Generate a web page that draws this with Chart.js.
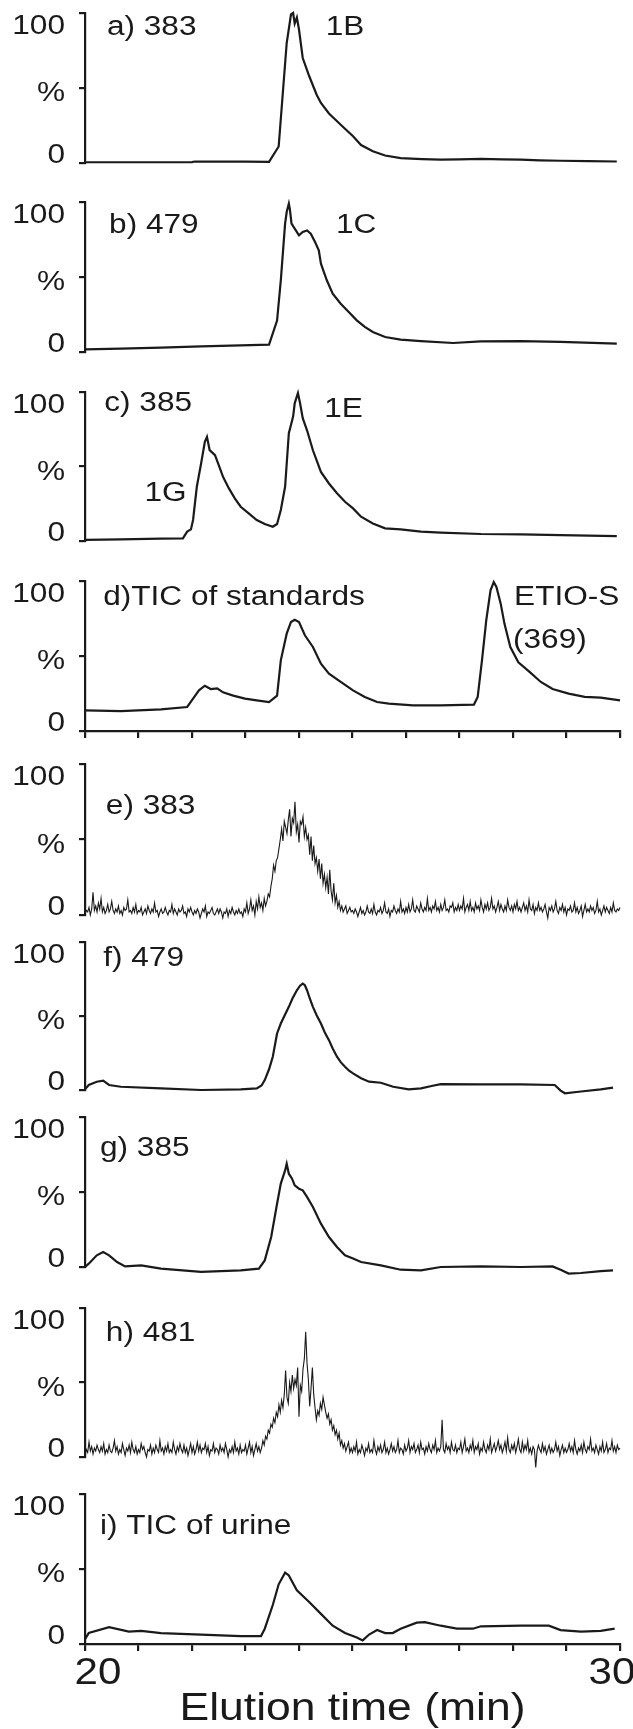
<!DOCTYPE html>
<html>
<head>
<meta charset="utf-8">
<title>Elution profiles</title>
<script src="https://cdn.jsdelivr.net/npm/chart.js@4.4.1/dist/chart.umd.min.js"></script>
<style>
  html, body { margin: 0; padding: 0; background: #fff; }
  #wrap { position: relative; width: 633px; height: 1729px; overflow: hidden; }
  #wrap canvas { position: absolute; left: 0; }
</style>
</head>
<body>
<div id="wrap"></div>
<script>
// elution time (min) / relative intensity (%) for each trace
const aTimes = [20.00, 21.00, 22.00, 22.05, 23.00, 23.44, 23.62, 23.77, 23.85, 23.89, 23.92, 23.96, 24.00, 24.07, 24.19, 24.33, 24.41, 24.56, 24.78, 25.01, 25.16, 25.38, 25.61, 25.90, 26.30, 26.65, 27.00, 27.40, 27.80, 28.15, 28.50, 28.89, 29.40, 29.94];
const aValues = [0.5, 0.5, 0.6, 1.0, 0.9, 0.8, 11, 80, 99, 100, 93, 97, 89, 70, 58, 45.5, 40, 33, 25.5, 17.8, 12, 7.8, 5, 3.3, 2.6, 2.2, 2.4, 2.7, 2.4, 2.2, 1.8, 1.5, 1.2, 1.0];

const bTimes = [20.00, 20.67, 21.42, 22.17, 22.91, 23.44, 23.59, 23.66, 23.74, 23.77, 23.81, 23.83, 23.86, 23.92, 24.00, 24.07, 24.15, 24.22, 24.30, 24.37, 24.41, 24.52, 24.63, 24.78, 24.93, 25.08, 25.23, 25.38, 25.61, 25.90, 26.28, 26.88, 27.40, 28.15, 28.89, 29.94];
const bValues = [1.8, 2.2, 2.9, 3.8, 4.4, 4.9, 21, 47.8, 85.6, 93.3, 98.9, 95, 85.6, 82.2, 77.8, 80, 81, 78.9, 73.3, 67.8, 58.9, 47.8, 38.9, 32.2, 26.7, 21.1, 16.7, 13.3, 10, 8.2, 7.3, 6, 7.1, 7.3, 6.7, 5.6];

const cTimes = [20.00, 20.67, 21.42, 21.83, 21.91, 21.98, 22.02, 22.09, 22.17, 22.24, 22.28, 22.33, 22.43, 22.50, 22.58, 22.69, 22.80, 22.91, 23.06, 23.21, 23.36, 23.51, 23.59, 23.66, 23.74, 23.81, 23.89, 23.92, 23.98, 24.02, 24.07, 24.15, 24.26, 24.41, 24.56, 24.71, 24.86, 25.01, 25.16, 25.38, 25.61, 25.90, 26.28, 26.65, 27.40, 28.15, 28.89, 29.94];
const cValues = [0.7, 1.1, 1.6, 1.8, 6.3, 7.8, 14.1, 36.4, 52, 66.5, 69.9, 61, 57.6, 50.9, 43.1, 35.3, 28.6, 23.0, 18.5, 14.1, 11.4, 9.6, 11.4, 20.8, 36.4, 72.3, 83.5, 92.4, 99.3, 92.4, 82.4, 74.3, 60.9, 46.4, 38.6, 32.0, 26.3, 21.9, 16.3, 11.8, 8.5, 7.8, 6.3, 5.6, 4.7, 4.5, 4.0, 3.3];

const dTimes = [20.00, 20.67, 21.42, 21.91, 22.02, 22.13, 22.24, 22.35, 22.47, 22.58, 22.77, 22.99, 23.21, 23.44, 23.59, 23.66, 23.77, 23.85, 23.92, 24.00, 24.11, 24.26, 24.41, 24.56, 24.78, 25.01, 25.23, 25.46, 25.68, 26.13, 26.65, 27.27, 27.34, 27.42, 27.50, 27.58, 27.64, 27.69, 27.77, 27.84, 27.95, 28.10, 28.32, 28.52, 28.74, 29.04, 29.34, 29.64, 30.00];
const dValues = [13.8, 13.3, 14.4, 16.0, 21.6, 27.1, 30.2, 28.0, 28.4, 25.8, 23.6, 21.6, 20.4, 19.3, 23.6, 47.1, 64.9, 72.7, 74.2, 72.7, 63.8, 56.0, 44.9, 38.2, 32.7, 27.1, 22.7, 19.3, 18.2, 17.1, 17.1, 17.6, 22.7, 47.1, 73.8, 93.8, 99.3, 96.0, 84.9, 71.6, 56.0, 45.8, 39.1, 32.7, 28.0, 24.9, 22.7, 22.2, 20.4];

// e) and h) are noisy, read off on a 0.025 min grid starting at 20 min (one row = 0.5 min)
const gridStart = 20;
const gridStep = 0.025;
const eValues = [
  1, 3, 2, 5, 0, 4, 15, 3, 6, 2, 8, 4, 11, 2, 5, 1, 3, 7, 2, 4,
  9, 3, 1, 4, 2, 6, 1, 3, 0, 5, 3, 4, 10, 2, 3, 1, 5, 2, 7, 1,
  3, 2, 5, 0, 2, 4, 1, 6, 3, 1, 4, 2, 8, 2, 3, -1, 2, 4, 1, 2,
  5, 2, 0, 3, 2, 7, 1, 4, 2, 0, 4, 2, 3, 6, 1, 2, -1, 4, 2, 5,
  2, 0, 3, 1, 4, 2, -2, 1, 4, 2, 6, -1, 2, 1, 3, 5, 1, 0, 2, 4,
  1, 4, 2, -2, 2, 1, 4, -1, 3, 1, 5, 2, 0, 3, 1, 4, 1, 2, -1, 4,
  2, 8, 1, 4, 10, 3, 6, 0, 9, 4, 12, 5, 8, 3, 11, 6, 9, 14, 12, 19,
  24, 33, 29, 36, 38, 44, 50, 57, 49, 62, 58, 54, 63, 70, 52, 64, 61, 75, 55, 60,
  48, 62, 60, 65, 52, 58, 50, 53, 40, 52, 36, 46, 34, 38, 29, 37, 24, 34, 21, 27,
  18, 25, 14, 30, 16, 10, 21, 8, 13, 5, 9, 3, 6, 2, 4, 6, 1, 3, 5, 2,
  3, 1, 4, 2, -1, 2, 5, 1, 3, 0, 2, 6, 2, 1, 4, 1, 7, 2, 0, 3,
  2, 5, 1, 3, 8, 2, 1, 4, -1, 3, 2, 6, 3, 1, 4, 2, 9, 2, 4, 1,
  5, 2, 7, 2, 4, 10, 3, 2, 6, 4, 2, 8, 4, 2, 5, 3, 11, 3, 5, 2,
  6, 4, 9, 3, 5, 2, 7, 3, 5, 10, 3, 4, 2, 6, 5, 8, 2, 5, 3, 7,
  3, 6, 4, 11, 2, 5, 7, 3, 9, 3, 5, 2, 8, 4, 6, 3, 10, 5, 2, 7,
  4, 8, 3, 5, 11, 4, 6, 2, 5, 9, 3, 7, 4, 2, 6, 3, 10, 5, 3, 6,
  2, 7, 4, 9, 3, 5, 2, 5, 8, 3, 6, 2, 10, 4, 3, 7, 1, 5, 3, 8,
  3, 5, 2, 4, 7, 2, -2, 5, 3, 6, 2, 4, 9, 3, 1, 5, 3, 7, 2, 5,
  0, 4, 3, 6, 2, 3, 8, 2, 5, 1, 3, 6, -1, 3, 7, 2, 4, 2, 6, 3,
  5, 1, 3, 9, 2, 4, 0, 3, 6, 2, 5, 3, 1, 5, 2, 8, 3, 2, 4, 3,
  5
];

const fTimes = [20.00, 20.07, 20.22, 20.34, 20.45, 20.67, 21.42, 22.17, 22.91, 23.21, 23.30, 23.36, 23.44, 23.51, 23.59, 23.66, 23.74, 23.81, 23.88, 23.96, 24.02, 24.07, 24.11, 24.15, 24.20, 24.26, 24.33, 24.41, 24.48, 24.56, 24.63, 24.71, 24.78, 24.86, 24.93, 25.01, 25.16, 25.31, 25.53, 25.76, 26.05, 26.28, 26.50, 26.65, 27.40, 28.15, 28.78, 28.89, 28.97, 29.27, 29.64, 29.87];
const fValues = [0.4, 3.4, 5.6, 6.3, 3.4, 2.2, 1.1, 0, 0.4, 1.1, 3.0, 6.7, 14, 22.5, 38.2, 44.9, 51, 56.2, 62, 67.4, 70.5, 71.9, 70.8, 67.4, 62, 56.2, 50.5, 44.9, 39, 33.7, 28, 22.5, 18.8, 15.7, 13.2, 11.2, 7.9, 5.6, 4.9, 2.2, 0.4, 1.1, 2.9, 4.0, 3.8, 3.8, 3.4, -0.4, -2.2, -1.0, 0.4, 1.6];

const gTimes = [20.00, 20.07, 20.22, 20.34, 20.45, 20.60, 20.75, 21.05, 21.42, 22.17, 22.91, 23.25, 23.36, 23.48, 23.59, 23.66, 23.74, 23.77, 23.81, 23.87, 23.92, 24.00, 24.07, 24.15, 24.26, 24.41, 24.56, 24.71, 24.86, 25.01, 25.16, 25.53, 25.90, 26.28, 26.65, 27.40, 28.15, 28.74, 28.89, 29.04, 29.27, 29.64, 29.87];
const gValues = [0, 2.2, 7.8, 10, 7.8, 3.3, 0.4, 1.1, -1.1, -3.3, -2.2, -1.1, 4.4, 20, 42.2, 55.6, 64.4, 68.9, 62.2, 58.9, 54.4, 52.2, 51.1, 46.7, 40, 28.9, 20, 13.3, 7.8, 5.6, 3.3, 1.1, -1.8, -2.2, 0, 0.4, 0, 0.4, -1.8, -4.4, -4.0, -2.7, -2.2];

const hValues = [
  1, 5, 3, 10, 4, 7, 2, 6, 4, 8, 5, 3, 7, 4, 9, 2, 5, 3, 8, 4,
  3, 6, 11, 4, 7, 2, 5, 3, 9, 5, 1, 6, 4, 8, 3, 10, 5, 3, 7, 2,
  5, 3, 9, 5, 7, 3, 0, 5, 4, 8, 2, 6, 3, 8, 5, 3, 11, 4, 6, 2,
  7, 4, 9, 3, 5, 3, 10, 5, 2, 7, 4, 9, 5, 3, 8, 3, 6, 1, 5, 9,
  3, 7, 2, 5, 10, 4, 8, 3, 6, 5, 9, 3, 7, 1, 5, 4, 9, 3, 6, 5,
  2, 8, 4, 6, 3, 9, 5, 0, 5, 3, 7, 3, 10, 4, 6, 2, 8, 3, 5, 4,
  8, 2, 6, 10, 3, 7, 1, 5, 9, 4, 7, 3, 6, 11, 8, 14, 12, 18, 16, 22,
  20, 26, 23, 30, 27, 35, 30, 38, 33, 42, 58, 40, 36, 50, 44, 55, 46, 52, 48, 60,
  27, 48, 44, 59, 66, 84, 63, 52, 34, 46, 60, 42, 33, 25, 31, 28, 36, 32, 40, 35,
  30, 26, 29, 22, 25, 18, 21, 15, 18, 12, 16, 8, 11, 6, 9, 4, 7, 10, 3, 6,
  3, 7, 4, 10, 2, 5, 3, 8, 5, 1, 6, 4, 9, 3, 5, 3, 11, 5, 2, 7,
  4, 8, 3, 5, 10, 3, 6, 2, 5, 9, 4, 7, 3, 5, 11, 3, 6, 5, 2, 8,
  4, 6, 11, 3, 7, 5, 9, 3, 5, 8, 3, 10, 5, 6, 2, 7, 4, 9, 5, 3,
  8, 5, 11, 3, 6, 4, 7, 25, 5, 3, 9, 5, 7, 3, 10, 5, 4, 8, 3, 6,
  5, 10, 3, 7, 12, 4, 6, 3, 8, 5, 11, 3, 7, 5, 9, 2, 6, 4, 10, 5,
  3, 8, 5, 12, 3, 6, 9, 4, 7, 11, 5, 8, 3, 6, 10, 4, 13, 5, 3, 8,
  5, 9, 3, 7, 12, 5, 3, 10, 4, 8, 5, 11, 3, 6, 2, 7, 5, -7, 4, 8,
  5, 3, 9, 4, 7, 2, 5, 8, 3, 6, 3, 5, 10, 4, 7, 1, 5, 8, 3, 6,
  3, 5, 9, 4, 7, 3, 11, 5, 2, 6, 4, 8, 3, 10, 5, 3, 7, 5, 12, 4,
  6, 3, 8, 5, 2, 7, 4, 10, 3, 5, 9, 3, 6, 5, 11, 4, 7, 3, 8, 5,
  6
];

const iTimes = [20.00, 20.07, 20.45, 20.82, 21.05, 21.42, 22.17, 22.91, 23.29, 23.36, 23.51, 23.62, 23.74, 23.81, 23.96, 24.19, 24.41, 24.63, 24.86, 25.08, 25.19, 25.31, 25.46, 25.61, 25.75, 25.90, 26.20, 26.35, 26.65, 26.95, 27.25, 27.40, 28.15, 28.67, 28.89, 29.27, 29.64, 29.90];
const iValues = [3.3, 7.3, 11.2, 8.3, 8.7, 7.3, 6.3, 5.3, 5.3, 10.2, 26, 39.8, 47.6, 45.7, 35.8, 28, 20.1, 12.2, 7.3, 4.3, 2.4, 6.3, 9.3, 7.3, 7.3, 10.2, 14.2, 14.6, 12.2, 10.2, 10.2, 11.8, 12.2, 12.2, 9.3, 8.3, 8.7, 10.2];

// axis ticks
const yTickValues = [0, 50, 100];
const yTickText = ['0', '%', '100'];
const xRange = [20, 30];
const xTickStep = 1;
const xLabelled = [20, 30];
const xTitle = 'Elution time (min)';

const ink = '#1a1a1a';
const fontFamily = '"Liberation Sans", Arial, Helvetica, sans-serif';
// the lettering of this figure is a little wider than plain Arial
const textStretch = 1.17;

const pairs = (times, values) => values.map((v, k) => ({ x: times[k], y: v }));
const onGrid = values => values.map((v, k) => ({ x: gridStart + k * gridStep, y: v }));

const plotLeft = 85, plotRight = 620, pageW = 633, pageH = 1729;
// y tick labels sit a little inside the axis ends
const yLabelShift = [-7, 6, 14];
// "20" / "30" are pulled in toward the plot
const xLabelShift = [13, -8];

// panel frames: top / bottom of each plot box, x axis style
const panels = [
  { top: 13, bottom: 163, points: pairs(aTimes, aValues), lw: 2.2,
    notes: [['a) 383', 20.41, 90], ['1B', 24.5, 90]] },
  { top: 202, bottom: 352, points: pairs(bTimes, bValues), lw: 2.2,
    notes: [['b) 479', 20.45, 84], ['1C', 24.69, 84]] },
  { top: 392, bottom: 541, points: pairs(cTimes, cValues), lw: 2.2,
    notes: [['c) 385', 20.36, 92], ['1E', 24.47, 88], ['1G', 21.11, 32]] },
  { top: 581, bottom: 731, points: pairs(dTimes, dValues), lw: 2.2, xAxis: 'ticks',
    notes: [['d)TIC of standards', 20.34, 89], ['ETIO-S', 28.02, 89], ['(369)', 28.0, 60]] },
  { top: 764, bottom: 915, points: onGrid(eValues), lw: 1.1,
    notes: [['e) 383', 20.39, 72]] },
  { top: 942, bottom: 1090, points: pairs(fTimes, fValues), lw: 2.2,
    notes: [['f) 479', 20.34, 89]] },
  { top: 1117, bottom: 1267, points: pairs(gTimes, gValues), lw: 2.2,
    notes: [['g) 385', 20.28, 79]] },
  { top: 1308, bottom: 1457, points: onGrid(hValues), lw: 1.1,
    notes: [['h) 481', 20.39, 83]] },
  { top: 1494, bottom: 1644, points: pairs(iTimes, iValues), lw: 2.2, xAxis: 'labels',
    notes: [['i) TIC of urine', 20.28, 78]] }
];

function stretchText(ctx, text, x, y, align, size) {
  ctx.save();
  ctx.font = size + 'px ' + fontFamily;
  ctx.textAlign = 'left';
  ctx.textBaseline = 'middle';
  const w = ctx.measureText(text).width * textStretch;
  const left = align === 'right' ? x - w : align === 'center' ? x - w / 2 : x;
  ctx.translate(left, y);
  ctx.scale(textStretch, 1);
  ctx.fillText(text, 0, 0);
  ctx.restore();
}

// all lettering: y tick labels, trace / peak names, x labels and title
const notesPlugin = {
  id: 'notes',
  afterDatasetsDraw(chart, args, opts) {
    const { ctx, scales } = chart;
    ctx.save();
    ctx.fillStyle = ink;
    yTickValues.forEach((v, k) => {
      stretchText(ctx, yTickText[k], plotLeft - 20, scales.y.getPixelForValue(v) + yLabelShift[k], 'right', 27);
    });
    for (const [text, t, v] of opts.items) {
      stretchText(ctx, text, scales.x.getPixelForValue(t), scales.y.getPixelForValue(v), 'left', 27);
    }
    if (opts.xLabels) {
      const axisY = scales.y.getPixelForValue(0);
      xLabelled.forEach((t, k) => {
        stretchText(ctx, String(t), scales.x.getPixelForValue(t) + xLabelShift[k], axisY + 30, 'center', 36);
      });
      stretchText(ctx, xTitle, (plotLeft + plotRight) / 2, axisY + 66, 'center', 38);
    }
    ctx.restore();
  }
};

const wrap = document.getElementById('wrap');

panels.forEach(p => {
  const canvasTop = p.top - 30;
  const canvasBottom = p.xAxis === 'labels' ? pageH : p.bottom + 30;
  const canvas = document.createElement('canvas');
  canvas.width = pageW;
  canvas.height = canvasBottom - canvasTop;
  canvas.style.top = canvasTop + 'px';
  wrap.appendChild(canvas);

  const below = canvasBottom - p.bottom;
  const xScale = {
    type: 'linear',
    min: xRange[0],
    max: xRange[1],
    display: !!p.xAxis
  };
  if (p.xAxis) {
    Object.assign(xScale, {
      ticks: { stepSize: xTickStep, autoSkip: false, display: false },
      grid: { drawOnChartArea: false, drawTicks: true, tickLength: 7, color: ink, lineWidth: 2.2 },
      border: { display: true, color: ink, width: 2.2 },
      afterFit: s => { s.height = below; }
    });
  }

  new Chart(canvas, {
    type: 'line',
    data: {
      datasets: [{
        data: p.points,
        borderColor: ink,
        borderWidth: p.lw,
        pointRadius: 0,
        tension: 0,
        fill: false,
        clip: false
      }]
    },
    options: {
      responsive: false,
      animation: false,
      events: [],
      layout: {
        padding: { top: p.top - canvasTop, right: pageW - plotRight, left: 0, bottom: p.xAxis ? 0 : below }
      },
      plugins: {
        legend: { display: false },
        tooltip: { enabled: false },
        notes: { items: p.notes, xLabels: p.xAxis === 'labels' }
      },
      scales: {
        x: xScale,
        y: {
          min: 0,
          max: 100,
          afterBuildTicks: s => { s.ticks = yTickValues.map(v => ({ value: v })); },
          ticks: { display: false },
          grid: { drawOnChartArea: false, drawTicks: true, tickLength: 6, color: ink, lineWidth: 2.2 },
          border: { display: true, color: ink, width: 2.2 },
          afterFit: s => { s.width = plotLeft; }
        }
      }
    },
    plugins: [notesPlugin]
  });
});
</script>
</body>
</html>
